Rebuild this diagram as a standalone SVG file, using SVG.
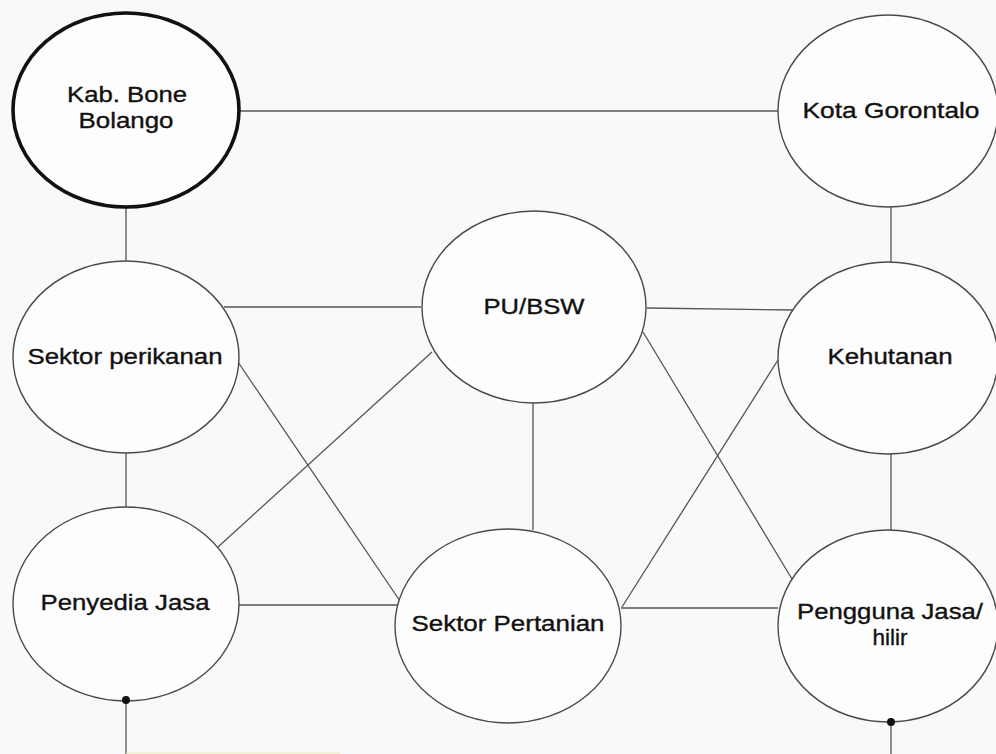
<svg xmlns="http://www.w3.org/2000/svg" width="996" height="754" viewBox="0 0 996 754">
<style>
.n{fill:#fdfdfd;stroke:#4a4a4a;stroke-width:1.4}
.thick{fill:#fdfdfd;stroke:#111;stroke-width:3.6}
.c line{stroke:#555;stroke-width:1.3}
.t{font-family:"Liberation Sans",Arial,sans-serif;font-size:22px;fill:#111;stroke:#111;stroke-width:0.35;text-anchor:middle}
.dot{fill:#111}
</style>
<rect width="996" height="754" fill="#f8f9fa"/>
<g class="c" id="connectors">
<line x1="240" y1="111" x2="778" y2="111"/>
<line x1="126" y1="207" x2="126" y2="261"/>
<line x1="126" y1="453" x2="126" y2="507"/>
<line x1="891" y1="207" x2="891" y2="262"/>
<line x1="891" y1="454" x2="891" y2="530"/>
<line x1="533" y1="403" x2="533" y2="530"/>
<line x1="224" y1="307" x2="421" y2="307"/>
<line x1="647" y1="308" x2="793" y2="310"/>
<line x1="238" y1="605" x2="398" y2="605"/>
<line x1="621" y1="608" x2="778" y2="608"/>
<line x1="238" y1="362" x2="400" y2="601"/>
<line x1="432" y1="352" x2="218" y2="547"/>
<line x1="643" y1="332" x2="792" y2="579"/>
<line x1="778" y1="360" x2="622" y2="607"/>
<line x1="126" y1="700" x2="126" y2="754"/>
<line x1="891" y1="722" x2="891" y2="754"/>
<line x1="126" y1="753" x2="340" y2="753" style="stroke:#eeeab0;stroke-width:1"/>
</g>
<g id="kab-bone-bolango">
<ellipse class="thick" cx="126" cy="110" rx="113" ry="97"/>
<text class="t" x="127" y="102" textLength="120" lengthAdjust="spacingAndGlyphs">Kab. Bone</text>
<text class="t" x="126" y="128" textLength="95" lengthAdjust="spacingAndGlyphs">Bolango</text>
</g>
<g id="kota-gorontalo">
<ellipse class="n" cx="888" cy="111" rx="110" ry="96"/>
<text class="t" x="891" y="118" textLength="177" lengthAdjust="spacingAndGlyphs">Kota Gorontalo</text>
</g>
<g id="sektor-perikanan">
<ellipse class="n" cx="126" cy="357" rx="113" ry="96"/>
<text class="t" x="125" y="364" textLength="195" lengthAdjust="spacingAndGlyphs">Sektor perikanan</text>
</g>
<g id="pu-bsw">
<ellipse class="n" cx="534" cy="307" rx="112" ry="96"/>
<text class="t" x="534" y="314" textLength="101" lengthAdjust="spacingAndGlyphs">PU/BSW</text>
</g>
<g id="kehutanan">
<ellipse class="n" cx="888" cy="358" rx="110" ry="96"/>
<text class="t" x="890" y="364" textLength="125" lengthAdjust="spacingAndGlyphs">Kehutanan</text>
</g>
<g id="penyedia-jasa">
<ellipse class="n" cx="126" cy="604" rx="113" ry="97"/>
<text class="t" x="125" y="610" textLength="169" lengthAdjust="spacingAndGlyphs">Penyedia Jasa</text>
<circle class="dot" cx="126" cy="700" r="4"/>
</g>
<g id="sektor-pertanian">
<ellipse class="n" cx="508" cy="626" rx="113" ry="97"/>
<text class="t" x="508" y="631" textLength="193" lengthAdjust="spacingAndGlyphs">Sektor Pertanian</text>
</g>
<g id="pengguna-jasa-hilir">
<ellipse class="n" cx="888" cy="626" rx="110" ry="96"/>
<text class="t" x="890" y="619" textLength="186" lengthAdjust="spacingAndGlyphs">Pengguna Jasa/</text>
<text class="t" x="890" y="645" textLength="35" lengthAdjust="spacingAndGlyphs">hilir</text>
<circle class="dot" cx="891" cy="722" r="4"/>
</g>
</svg>
